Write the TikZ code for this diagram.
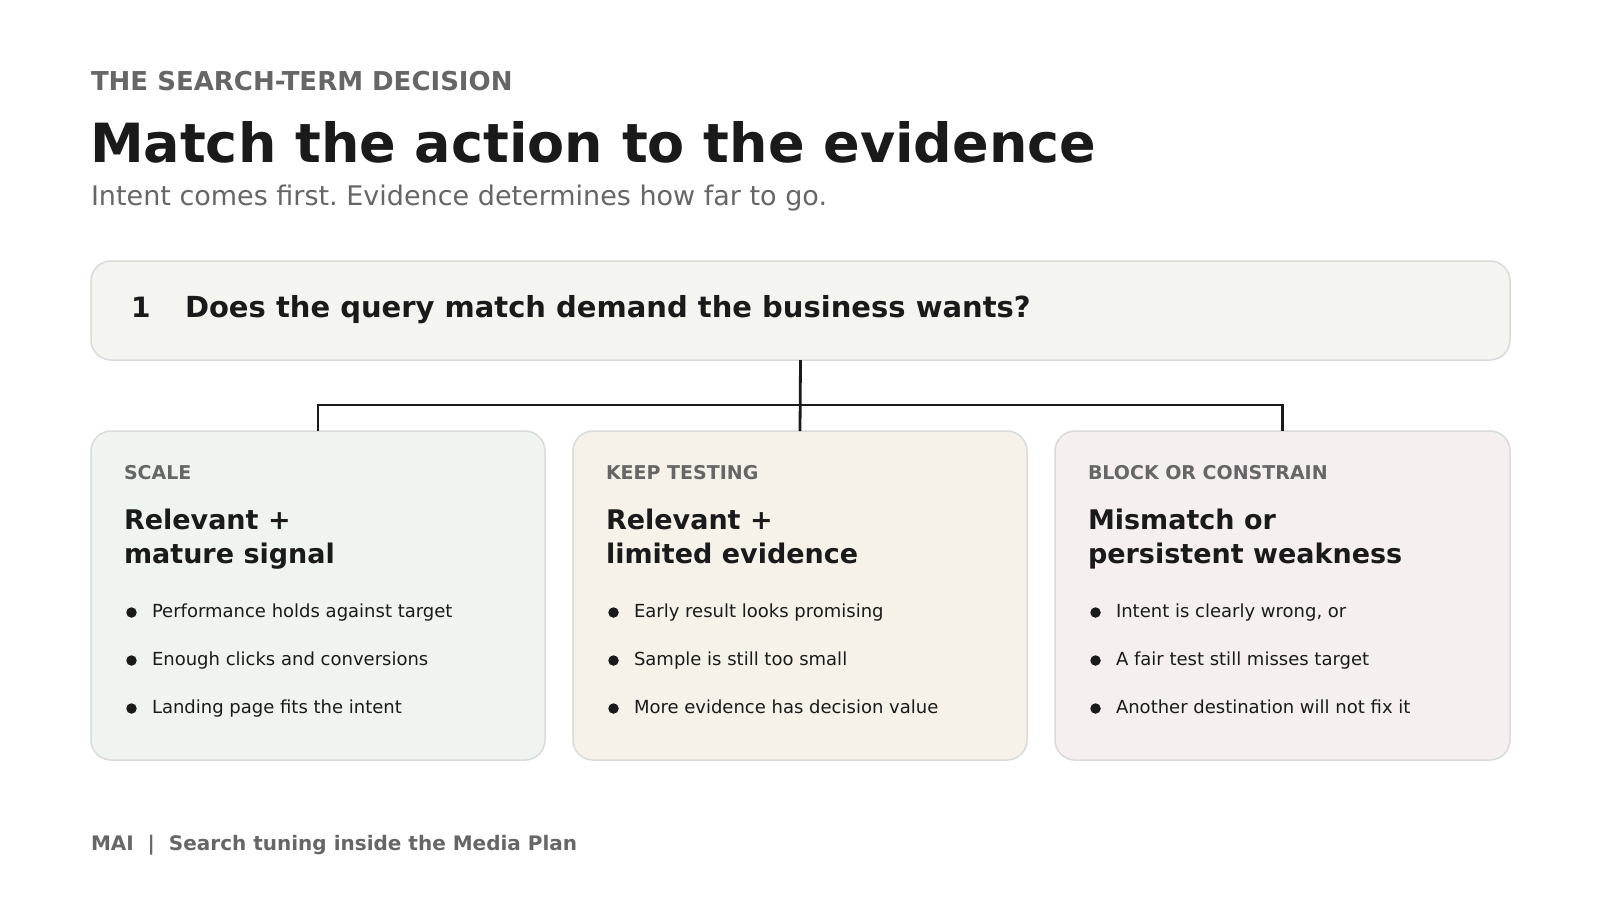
\documentclass[tikz,border=0pt]{standalone}
\usepackage{fontspec}
\setmainfont{DejaVu Sans}
\frenchspacing
\definecolor{ink}{HTML}{1A1A1A}
\definecolor{muted}{HTML}{666666}
\definecolor{edge}{HTML}{DADADA}
\definecolor{qfill}{HTML}{F4F4F1}
\definecolor{gfill}{HTML}{EFF4F0}
\definecolor{yfill}{HTML}{F6F2EA}
\definecolor{rfill}{HTML}{F5EFEF}
\tikzset{
  txt/.style={anchor=base west, inner sep=0pt, outer sep=0pt},
  panel/.style={draw=edge, line width=1.5pt, rounded corners=20pt, inner sep=0pt, outer sep=0pt},
  link/.style={draw=ink, line width=2.8pt},
  dotmark/.style={circle, fill=ink, inner sep=0pt, minimum size=10.5pt},
  kicker/.style={txt, text=muted, font=\bfseries\fontsize{19}{23}\selectfont},
  ctitle/.style={txt, text=ink, font=\bfseries\fontsize{27}{33}\selectfont},
  item/.style={txt, text=ink, font=\fontsize{18}{22}\selectfont},
}
\begin{document}
\begin{tikzpicture}[x=1pt,y=-1pt]
\useasboundingbox (0,0) rectangle (1600,900);
\fill[white] (0,0) rectangle (1600,900);

% header
\node[txt, text=muted, font=\bfseries\fontsize{26}{31}\selectfont] (kick) at (91,90) {THE SEARCH-TERM DECISION};
\node[txt, text=ink, font=\bfseries\fontsize{54}{65}\selectfont] (title) at (90,162) {Match the action to the evidence};
\node[txt, text=muted, font=\fontsize{27}{32}\selectfont] (sub) at (91,205) {Intent comes first. Evidence determines how far to go.};

% question box
\node[panel, fill=qfill, minimum width=1419pt, minimum height=99pt] (q) at (800.5,310.5) {};
\node[txt, text=ink, font=\bfseries\fontsize{28}{34}\selectfont] (qn) at (131,317) {1};
\node[txt, text=ink, font=\bfseries\fontsize{29}{35}\selectfont] (qt) at (185,317) {Does the query match demand the business wants?};

% cards
\node[panel, fill=gfill, minimum width=454pt, minimum height=329pt] (c1) at (318,595.5) {};
\node[panel, fill=yfill, minimum width=454pt, minimum height=329pt] (c2) at (800,595.5) {};
\node[panel, fill=rfill, minimum width=455pt, minimum height=329pt] (c3) at (1282.5,595.5) {};

% connectors
\coordinate (j) at (800,405);
\draw[link] (q.south) -- (c2.north);
\draw[link] (c1.north) -- (c1.north |- j) -- (c3.north |- j) -- (c3.north);

% card 1
\node[kicker] (l1) at (124,479) {SCALE};
\node[ctitle] (t1a) at (124,529) {Relevant +};
\node[ctitle] (t1b) at (124,563) {mature signal};
\node[dotmark] (d1a) at (131.5,612.5) {};
\node[item] (b1a) at (152,617) {Performance holds against target};
\node[dotmark] (d1b) at (131.5,660.5) {};
\node[item] (b1b) at (152,665) {Enough clicks and conversions};
\node[dotmark] (d1c) at (131.5,708.5) {};
\node[item] (b1c) at (152,713) {Landing page fits the intent};

% card 2
\node[kicker] (l2) at (606,479) {KEEP TESTING};
\node[ctitle] (t2a) at (606,529) {Relevant +};
\node[ctitle] (t2b) at (606,563) {limited evidence};
\node[dotmark] (d2a) at (613.5,612.5) {};
\node[item] (b2a) at (634,617) {Early result looks promising};
\node[dotmark] (d2b) at (613.5,660.5) {};
\node[item] (b2b) at (634,665) {Sample is still too small};
\node[dotmark] (d2c) at (613.5,708.5) {};
\node[item] (b2c) at (634,713) {More evidence has decision value};

% card 3
\node[kicker] (l3) at (1088,479) {BLOCK OR CONSTRAIN};
\node[ctitle] (t3a) at (1088,529) {Mismatch or};
\node[ctitle] (t3b) at (1088,563) {persistent weakness};
\node[dotmark] (d3a) at (1095.5,612.5) {};
\node[item] (b3a) at (1116,617) {Intent is clearly wrong, or};
\node[dotmark] (d3b) at (1095.5,660.5) {};
\node[item] (b3b) at (1116,665) {A fair test still misses target};
\node[dotmark] (d3c) at (1095.5,708.5) {};
\node[item] (b3c) at (1116,713) {Another destination will not fix it};

% footer
\node[txt, text=muted, font=\bfseries\fontsize{20}{24}\selectfont] (foot) at (91,850) {MAI~~|~~Search tuning inside the Media Plan};
\end{tikzpicture}
\end{document}
